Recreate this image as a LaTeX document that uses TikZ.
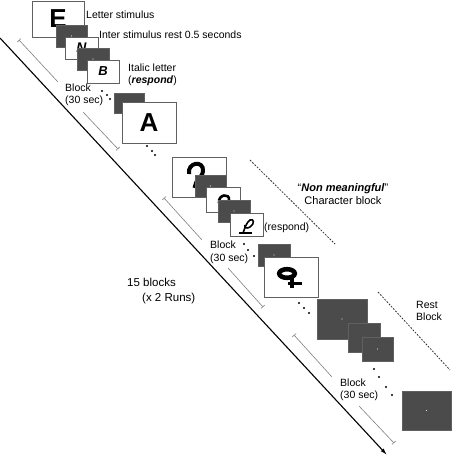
\documentclass[tikz,border=0pt]{standalone}
\usepackage{fontspec}
\setmainfont{Liberation Sans}
\usetikzlibrary{arrows.meta}

\definecolor{restgray}{HTML}{4B4B4B}

\begin{document}
\begin{tikzpicture}[x=1pt,y=-1pt]

	\tikzstyle stim box=[draw=gray!75!black, fill=white, line width=.6pt, inner sep=0pt, outer sep=0pt, anchor=north west];
	\tikzstyle rest box=[stim box, fill=restgray, path picture={\fill[gray!30] (path picture bounding box.center) circle (.6pt);}];
	\tikzstyle big letter=[font=\fontsize{26}{26}\selectfont\bfseries];
	\tikzstyle small letter=[font=\fontsize{13}{13}\selectfont\bfseries\itshape];
	\tikzstyle note=[font=\fontsize{10.5}{12.5}\selectfont, inner sep=0pt, align=left];
	\tikzstyle glyph=[line width=4pt];
	\tikzstyle block range=[gray, line width=.6pt];
	\tikzstyle group line=[gray!40!black, line width=.8pt, dash pattern=on 1.8pt off 1.4pt];
	\tikzstyle time line=[line width=1.1pt, -{Latex[length=7pt,width=4pt]}];

	\useasboundingbox (0,0) rectangle (451,459);

	% letter block
	\node[stim box, big letter, minimum width=52, minimum height=36] (letE) at (32,1) {E};
	\node[rest box, minimum width=31, minimum height=22] (isiA) at (56,25) {};
	\node[stim box, font=\fontsize{14}{14}\selectfont\bfseries\itshape, minimum width=33, minimum height=22] (letN) at (65,37) {N};
	\node[rest box, minimum width=32, minimum height=22] (isiB) at (77,48) {};
	\node[stim box, small letter, minimum width=32, minimum height=23] (letB) at (87,60) {B};
	\node[rest box, minimum width=30, minimum height=20] (isiC) at (114,93) {};
	\node[stim box, big letter, minimum width=54, minimum height=41] (letA) at (122,102) {A};

	\node[note, anchor=west] (lblletter) at (86,15) {Letter stimulus};
	\node[note, anchor=west] (lblisi) at (99,35) {Inter stimulus rest 0.5 seconds};
	\node[note, anchor=west] (lblitalic) at (128,75) {Italic letter\\(\textbf{\textit{respond}})};

	% character block
	\node[stim box, minimum width=54, minimum height=40] (chrA) at (172,157) {};
	\draw[glyph] (189,174) .. controls (187,162) and (204,160) .. (203,171) .. controls (202,178) and (197,178) .. (196,183) -- (194.5,188);
	\node[rest box, minimum width=31, minimum height=22] (isiD) at (195,175) {};
	\node[stim box, minimum width=34, minimum height=25] (chrB) at (206,187) {};
	\draw[glyph, line width=2.6pt] (219,203) .. controls (218,194) and (230,193) .. (229,200) .. controls (228,205) and (224,205) .. (224,210);
	\node[rest box, minimum width=32, minimum height=22] (isiE) at (218,200) {};
	\node[stim box, minimum width=33, minimum height=23] (chrC) at (230,213) {};
	\draw[line width=1.6pt] (243,233) .. controls (245,228) and (246,223) .. (250,220) .. controls (254,218) and (255,224) .. (250,227) .. controls (247,229) and (244,228) .. (245,225);
	\draw[line width=1.3pt] (239,233) -- (252,233);
	\node[rest box, minimum width=32, minimum height=22] (isiF) at (258,244) {};
	\node[stim box, minimum width=54, minimum height=40] (chrD) at (264,257) {};
	\draw[glyph, line width=4.6pt] (287,273.5) ellipse (7.8 and 4.3);
	\draw[glyph] (292,278) -- (292,288);
	\draw[glyph, line width=3pt] (288,283.5) -- (302,283.5);

	\node[note, anchor=west] (lblresp) at (264,228) {(respond)};
	\node[note, align=center, font=\fontsize{11}{12.5}\selectfont] (lblchar) at (343,194) {``\textbf{\textit{Non meaningful}}''\\Character block};

	% rest block
	\node[rest box, minimum width=50, minimum height=40] (restA) at (317,299) {};
	\node[rest box, minimum width=32, minimum height=29] (restB) at (348,323) {};
	\node[rest box, minimum width=31, minimum height=24] (restC) at (362,337) {};
	\node[rest box, minimum width=49, minimum height=39] (restD) at (402,391) {};
	\node[note, anchor=west] (lblrest) at (416,311) {Rest\\Block};

	% dots
	\fill (102,91) circle (1.1);
	\fill (107,95) circle (1.1);
	\fill (110,99) circle (1.1);
	\fill (147,146) circle (1.1);
	\fill (152,151) circle (1.1);
	\fill (155,155) circle (1.1);
	\fill (244,244) circle (1.1);
	\fill (248,250) circle (1.1);
	\fill (254,256) circle (1.1);
	\fill (299,303) circle (1.1);
	\fill (304,308) circle (1.1);
	\fill (309,313) circle (1.1);
	\fill (374,369) circle (1.1);
	\fill (379,377) circle (1.1);
	\fill (386,387) circle (1.1);
	\fill (392,395) circle (1.1);

	% block ranges
	\node[note, anchor=west] (blkA) at (65,95) {Block\\(30 sec)};
	\node[note, anchor=west] (blkB) at (210,252.5) {Block\\(30 sec)};
	\node[note, anchor=west] (blkC) at (340,390) {Block\\(30 sec)};
	\coordinate (blkAs) at (19,40);  \coordinate (blkAm) at (58,82);
	\coordinate (blkAn) at (83,112); \coordinate (blkAe) at (118,149);
	\coordinate (blkBs) at (164,198); \coordinate (blkBm) at (202,240);
	\coordinate (blkBn) at (228,268); \coordinate (blkBe) at (263,307);
	\coordinate (blkCs) at (294,335); \coordinate (blkCm) at (332,377);
	\coordinate (blkCn) at (359,406); \coordinate (blkCe) at (394,443);
	\draw[block range, {Bar[width=5pt]}-] (blkAs) -- (blkAm);
	\draw[block range, -{Bar[width=5pt]}] (blkAn) -- (blkAe);
	\draw[block range, {Bar[width=5pt]}-] (blkBs) -- (blkBm);
	\draw[block range, -{Bar[width=5pt]}] (blkBn) -- (blkBe);
	\draw[block range, {Bar[width=5pt]}-] (blkCs) -- (blkCm);
	\draw[block range, -{Bar[width=5pt]}] (blkCn) -- (blkCe);

	% group lines
	\coordinate (chrls) at (250,160); \coordinate (chrle) at (335,244);
	\coordinate (restls) at (378,292); \coordinate (restle) at (450,370);
	\draw[group line] (chrls) -- (chrle);
	\draw[group line] (restls) -- (restle);

	% time axis
	\coordinate (tstart) at (0,38);
	\coordinate (tend) at (387,455);
	\draw[time line] (tstart) -- (tend);
	\node[note, anchor=west, font=\fontsize{11.5}{15}\selectfont] (lblruns) at (127,291) {15 blocks\\\hspace*{15pt}(x 2 Runs)};

\end{tikzpicture}
\end{document}
